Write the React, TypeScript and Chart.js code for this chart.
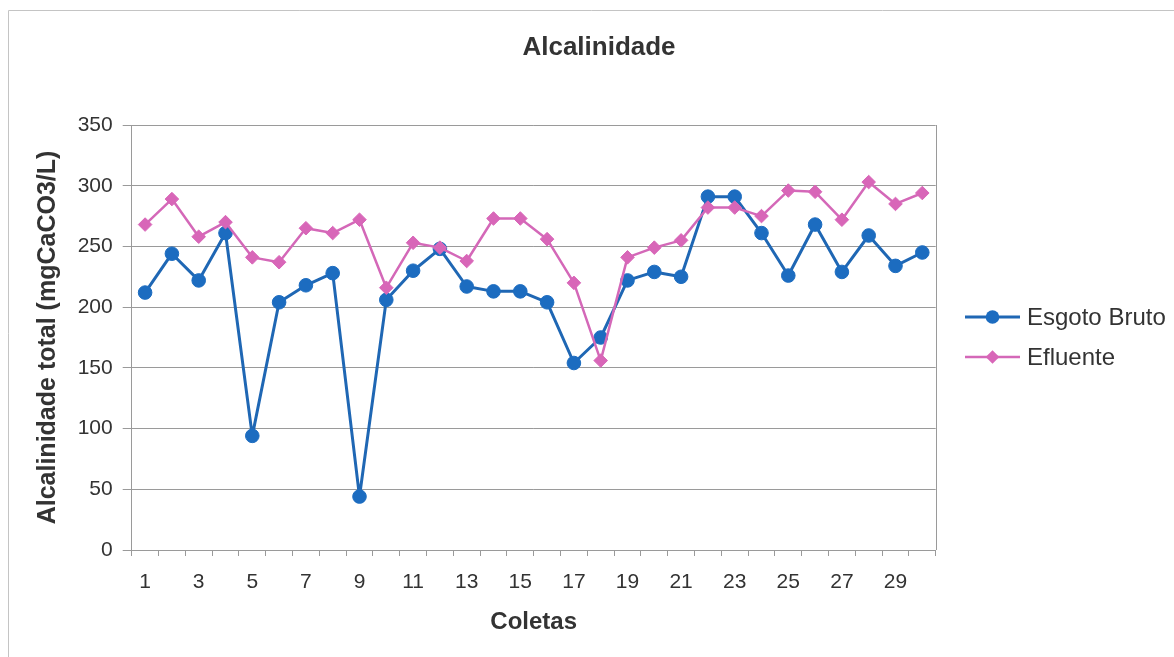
import React, { useEffect, useRef } from "react";
import { Chart, registerables } from "chart.js";

Chart.register(...registerables);

// Collection numbers (x categories)
const coletas = [
  "1", "2", "3", "4", "5", "6", "7", "8", "9", "10",
  "11", "12", "13", "14", "15", "16", "17", "18", "19", "20",
  "21", "22", "23", "24", "25", "26", "27", "28", "29", "30",
];

// Total alkalinity (mgCaCO3/L) of raw sewage
const esgotoBruto = [
  212, 244, 222, 261, 94, 204, 218, 228, 44, 206,
  230, 248, 217, 213, 213, 204, 154, 175, 222, 229,
  225, 291, 291, 261, 226, 268, 229, 259, 234, 245,
];

// Total alkalinity (mgCaCO3/L) of the effluent
const efluente = [
  268, 289, 258, 270, 241, 237, 265, 261, 272, 216,
  253, 249, 238, 273, 273, 256, 220, 156, 241, 249,
  255, 282, 282, 275, 296, 295, 272, 303, 285, 294,
];

// Y axis range
const yMin = 0;
const yMax = 350;
const yStep = 50;

const chartTitle = "Alcalinidade";
const yTitle = "Alcalinidade total (mgCaCO3/L)";
const xTitle = "Coletas";

const FONT = "'Liberation Sans', Arial, Helvetica, sans-serif";
const TEXT = "#333333";
const GRID = "#9a9a9a";
const BLUE = "#1f67b4";
const PINK = "#d468b8";

// Frame, title, plot border and legend
const decorations = {
  id: "decorations",
  beforeDraw(chart: any) {
    const { ctx } = chart;
    ctx.save();
    ctx.strokeStyle = "#c4c4c4";
    ctx.lineWidth = 1;
    ctx.beginPath();
    ctx.moveTo(8.5, 657);
    ctx.lineTo(8.5, 10.5);
    ctx.lineTo(1174, 10.5);
    ctx.stroke();

    ctx.fillStyle = TEXT;
    ctx.font = `bold 26px ${FONT}`;
    ctx.textAlign = "center";
    ctx.textBaseline = "middle";
    ctx.fillText(chartTitle, 599, 48);
    ctx.restore();
  },
  afterDraw(chart: any) {
    const { ctx, chartArea } = chart;
    ctx.save();
    ctx.strokeStyle = GRID;
    ctx.lineWidth = 1;
    ctx.beginPath();
    ctx.moveTo(Math.round(chartArea.right) + 0.5, chartArea.top);
    ctx.lineTo(Math.round(chartArea.right) + 0.5, chartArea.bottom);
    ctx.stroke();

    // legend entries, styled from the datasets
    const rows = [0, 1];
    const rowY = [317, 357];
    rows.forEach((di, r) => {
      const ds = chart.data.datasets[di];
      const y = rowY[r];
      ctx.strokeStyle = ds.borderColor;
      ctx.lineWidth = ds.borderWidth;
      ctx.beginPath();
      ctx.moveTo(965, y);
      ctx.lineTo(1020, y);
      ctx.stroke();
      ctx.fillStyle = ds.pointBackgroundColor;
      ctx.beginPath();
      if (ds.pointStyle === "circle") {
        ctx.arc(992.5, y, ds.pointRadius, 0, Math.PI * 2);
      } else {
        const s = ds.pointRadius;
        ctx.moveTo(992.5, y - s);
        ctx.lineTo(992.5 + s, y);
        ctx.lineTo(992.5, y + s);
        ctx.lineTo(992.5 - s, y);
        ctx.closePath();
      }
      ctx.fill();
      ctx.fillStyle = TEXT;
      ctx.font = `24px ${FONT}`;
      ctx.textAlign = "left";
      ctx.textBaseline = "middle";
      ctx.fillText(ds.label, 1027, y + 1);
    });
    ctx.restore();
  },
};

export default function App() {
  const canvasRef = useRef<HTMLCanvasElement | null>(null);

  useEffect(() => {
    if (!canvasRef.current) return;
    const chart = new Chart(canvasRef.current, {
      type: "line",
      data: {
        labels: coletas,
        datasets: [
          {
            label: "Esgoto Bruto",
            data: esgotoBruto,
            borderColor: BLUE,
            backgroundColor: BLUE,
            pointBackgroundColor: "#1c6cc0",
            pointBorderColor: "#1c6cc0",
            borderWidth: 3,
            borderJoinStyle: "round",
            pointStyle: "circle",
            pointRadius: 6.8,
            pointBorderWidth: 1,
            tension: 0,
            order: 1,
          },
          {
            label: "Efluente",
            data: efluente,
            borderColor: PINK,
            backgroundColor: PINK,
            pointBackgroundColor: "#d866b8",
            pointBorderColor: "#d866b8",
            borderWidth: 2.5,
            borderJoinStyle: "round",
            pointStyle: "rectRot",
            pointRadius: 6.8,
            pointBorderWidth: 1,
            tension: 0,
            order: 0,
          },
        ],
      },
      options: {
        responsive: false,
        animation: false,
        devicePixelRatio: 1,
        layout: { padding: { top: 125, right: 238.3, bottom: 0, left: 0 } },
        plugins: {
          legend: { display: false },
          title: { display: false },
          tooltip: { enabled: false },
        },
        scales: {
          x: {
            type: "category",
            offset: true,
            grid: {
              offset: true,
              drawOnChartArea: false,
              drawTicks: true,
              tickLength: 6,
              color: GRID,
            },
            border: { display: true, color: GRID, width: 1 },
            ticks: {
              autoSkip: false,
              maxRotation: 0,
              minRotation: 0,
              padding: 14,
              color: TEXT,
              font: { family: FONT, size: 21 },
              callback: (_v: any, i: number) => (i % 2 === 0 ? coletas[i] : ""),
            },
            title: {
              display: true,
              text: xTitle,
              color: TEXT,
              font: { family: FONT, size: 24, weight: "bold" },
              padding: { top: 0, bottom: 20 },
            },
            afterFit: (scale: any) => {
              scale.height = 107;
            },
          },
          y: {
            min: yMin,
            max: yMax,
            grid: {
              color: GRID,
              lineWidth: 1,
              drawTicks: true,
              tickLength: 9,
            },
            border: { display: true, color: GRID, width: 1 },
            ticks: {
              stepSize: yStep,
              padding: 10,
              color: TEXT,
              font: { family: FONT, size: 21 },
            },
            title: {
              display: true,
              text: yTitle,
              color: TEXT,
              font: { family: FONT, size: 25, weight: "bold" },
              padding: { top: 33, bottom: 0 },
            },
            afterFit: (scale: any) => {
              scale.width = 131.7;
            },
          },
        },
      },
      plugins: [decorations],
    });
    return () => chart.destroy();
  }, []);

  return (
    <div style={{ position: "absolute", left: 0, top: 0, width: 1174, height: 657, background: "#fff" }}>
      <canvas ref={canvasRef} width={1174} height={657} style={{ width: 1174, height: 657 }} />
    </div>
  );
}
